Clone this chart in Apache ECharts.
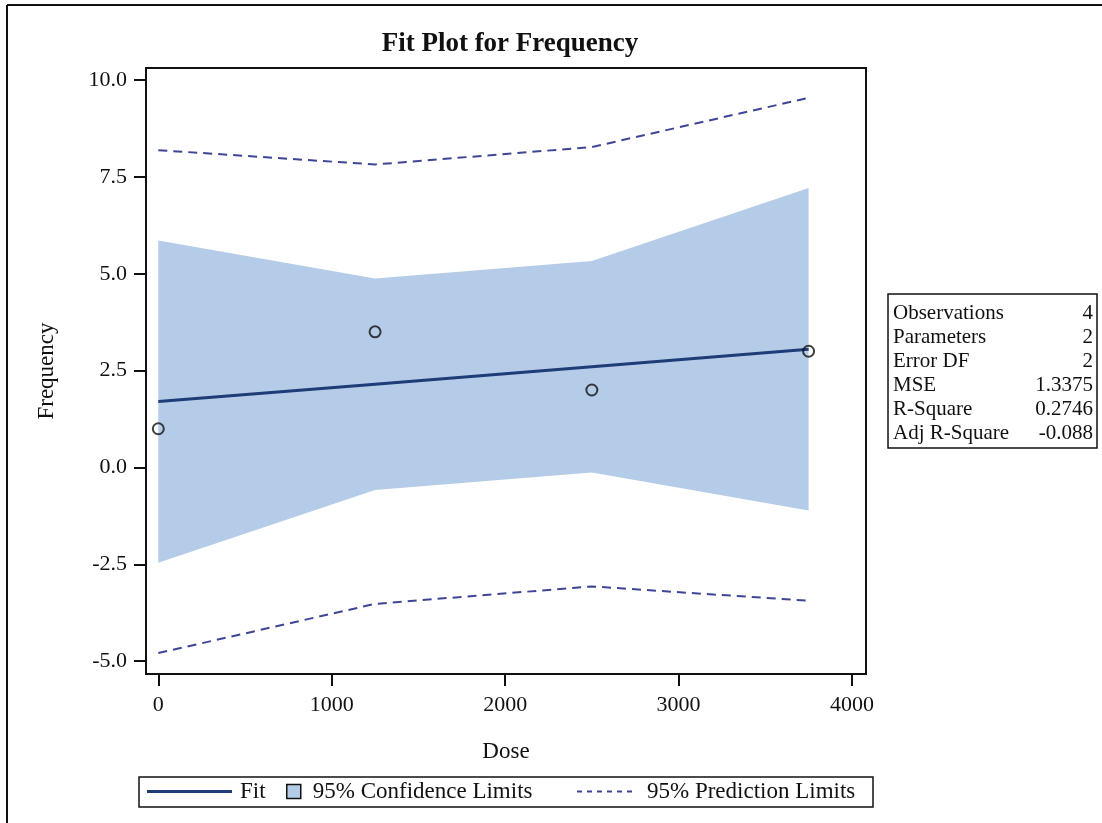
<!DOCTYPE html>
<html>
<head>
<meta charset="utf-8">
<script src="https://cdn.jsdelivr.net/npm/echarts@6/dist/echarts.min.js"></script>
<style>
html,body{margin:0;padding:0;background:#fff;}
#chart{width:1102px;height:823px;}
</style>
</head>
<body>
<div id="chart"></div>
<script>
// ---- data ----
var dose = [0, 1250, 2500, 3750];
var frequency = [1.0, 3.5, 2.0, 3.0];
var fit = [1.70, 2.15, 2.60, 3.05];
var lowerCL = [-2.46, -0.58, -0.13, -1.11];
var upperCL = [5.86, 4.88, 5.33, 7.21];
var lowerPL = [-4.79, -3.52, -3.07, -3.44];
var upperPL = [8.19, 7.82, 8.27, 9.54];
var xTicks = [0, 1000, 2000, 3000, 4000];
var yTicks = [-5.0, -2.5, 0.0, 2.5, 5.0, 7.5, 10.0];
var statLabels = ['Observations', 'Parameters', 'Error DF', 'MSE', 'R-Square', 'Adj R-Square'];
var statValues = ['4', '2', '2', '1.3375', '0.2746', '-0.088'];

function pairs(xs, ys) { return xs.map(function (x, i) { return [x, ys[i]]; }); }

var FONT = '"Liberation Serif", "Times New Roman", serif';
var BAND = '#b5cce8';
var FITC = '#1d3c78';
var PLC = '#3e4595';
var DASH_ICON = 'path://M0 0h5v2h-5zM10 0h5v2h-5zM20 0h5v2h-5zM30 0h5v2h-5zM40 0h5v2h-5zM50 0h5v2h-5z';

var graphics = [
  { type: 'line', shape: { x1: 7, y1: 5, x2: 1102, y2: 5 }, style: { stroke: '#111', lineWidth: 2 } },
  { type: 'line', shape: { x1: 7, y1: 5, x2: 7, y2: 823 }, style: { stroke: '#111', lineWidth: 2 } },
  { type: 'rect', shape: { x: 139, y: 777, width: 734, height: 30 }, style: { fill: 'none', stroke: '#111', lineWidth: 1.5 } },
  { type: 'rect', shape: { x: 888, y: 294, width: 209, height: 154 }, style: { fill: '#fff', stroke: '#111', lineWidth: 1.5 } }
];
statLabels.forEach(function (lab, i) {
  graphics.push({ type: 'text', x: 893, y: 313 + 24 * i,
    style: { text: lab, font: '21px ' + FONT, fill: '#111', textAlign: 'left', textVerticalAlign: 'middle' } });
  graphics.push({ type: 'text', x: 1093, y: 313 + 24 * i,
    style: { text: statValues[i], font: '21px ' + FONT, fill: '#111', textAlign: 'right', textVerticalAlign: 'middle' } });
});

function renderBand(params, api) {
  if (params.dataIndex !== 0) return;
  var pts = [];
  for (var i = 0; i < dose.length; i++) pts.push(api.coord([dose[i], upperCL[i]]));
  for (var j = dose.length - 1; j >= 0; j--) pts.push(api.coord([dose[j], lowerCL[j]]));
  return { type: 'polygon', shape: { points: pts }, style: { fill: BAND, stroke: 'none' } };
}

var chart = echarts.init(document.getElementById('chart'));
chart.setOption({
  backgroundColor: '#fff',
  animation: false,
  title: {
    text: 'Fit Plot for Frequency',
    left: 505, top: 26, textAlign: 'center',
    textStyle: { fontFamily: FONT, fontSize: 27, fontWeight: 'bold', color: '#111' }
  },
  grid: { left: 146, top: 68, right: 236, bottom: 149, show: true, borderColor: '#111', borderWidth: 2, backgroundColor: 'transparent' },
  xAxis: {
    type: 'value', min: -71, max: 4081,
    name: 'Dose', nameLocation: 'middle', nameGap: 66,
    nameTextStyle: { fontFamily: FONT, fontSize: 23, color: '#111' },
    axisLine: { show: false, onZero: false },
    splitLine: { show: false },
    axisTick: { show: true, length: 12, inside: false, customValues: xTicks, lineStyle: { color: '#111', width: 2 } },
    axisLabel: { margin: 20, customValues: xTicks, fontFamily: FONT, fontSize: 22, color: '#111',
      formatter: function (v) { return String(v); } }
  },
  yAxis: {
    type: 'value', min: -5.33, max: 10.31,
    name: 'Frequency', nameLocation: 'middle', nameGap: 88,
    nameTextStyle: { fontFamily: FONT, fontSize: 23, color: '#111' },
    axisLine: { show: false, onZero: false },
    splitLine: { show: false },
    axisTick: { show: true, length: 12, inside: false, customValues: yTicks, lineStyle: { color: '#111', width: 2 } },
    axisLabel: { margin: 19, customValues: yTicks, fontFamily: FONT, fontSize: 22, color: '#111',
      formatter: function (v) { return v.toFixed(1); } }
  },
  legend: [
    { data: [{ name: 'Fit', icon: 'rect', itemStyle: { color: FITC, borderWidth: 0 } }],
      left: 147, top: 780, padding: 0, itemWidth: 85, itemHeight: 3,
      textStyle: { fontFamily: FONT, fontSize: 23, color: '#111', padding: [0, 0, 0, 3] } },
    { data: [{ name: '95% Confidence Limits', icon: 'rect', itemStyle: { color: BAND, borderColor: '#111', borderWidth: 1.5 } }],
      left: 286, top: 780, padding: 0, itemWidth: 14, itemHeight: 14,
      textStyle: { fontFamily: FONT, fontSize: 23, color: '#111', padding: [0, 0, 0, 7] } },
    { data: [{ name: '95% Prediction Limits', icon: DASH_ICON, itemStyle: { color: PLC, borderWidth: 0 } }],
      left: 577, top: 780, padding: 0, itemWidth: 55, itemHeight: 2,
      textStyle: { fontFamily: FONT, fontSize: 23, color: '#111', padding: [0, 0, 0, 10] } }
  ],
  graphic: graphics,
  series: [
    { name: '95% Confidence Limits', type: 'custom', renderItem: renderBand,
      data: dose.map(function (d, i) { return [d, lowerCL[i], upperCL[i]]; }),
      encode: { x: 0, y: [1, 2] }, itemStyle: { color: BAND }, silent: true, z: 1 },
    { name: '95% Prediction Limits', type: 'line', data: pairs(dose, upperPL), symbol: 'none',
      itemStyle: { color: PLC }, lineStyle: { color: PLC, width: 2, type: [9, 6] }, z: 3 },
    { name: '95% Prediction Limits', type: 'line', data: pairs(dose, lowerPL), symbol: 'none',
      itemStyle: { color: PLC }, lineStyle: { color: PLC, width: 2, type: [9, 6] }, z: 3 },
    { name: 'Fit', type: 'line', data: pairs(dose, fit), symbol: 'none',
      itemStyle: { color: FITC }, lineStyle: { color: FITC, width: 3 }, z: 4 },
    { name: 'Frequency', type: 'scatter', data: pairs(dose, frequency), symbol: 'circle', symbolSize: 11,
      itemStyle: { color: 'rgba(0,0,0,0)', borderColor: '#111', borderWidth: 2 }, z: 5 }
  ]
});
</script>
</body>
</html>
